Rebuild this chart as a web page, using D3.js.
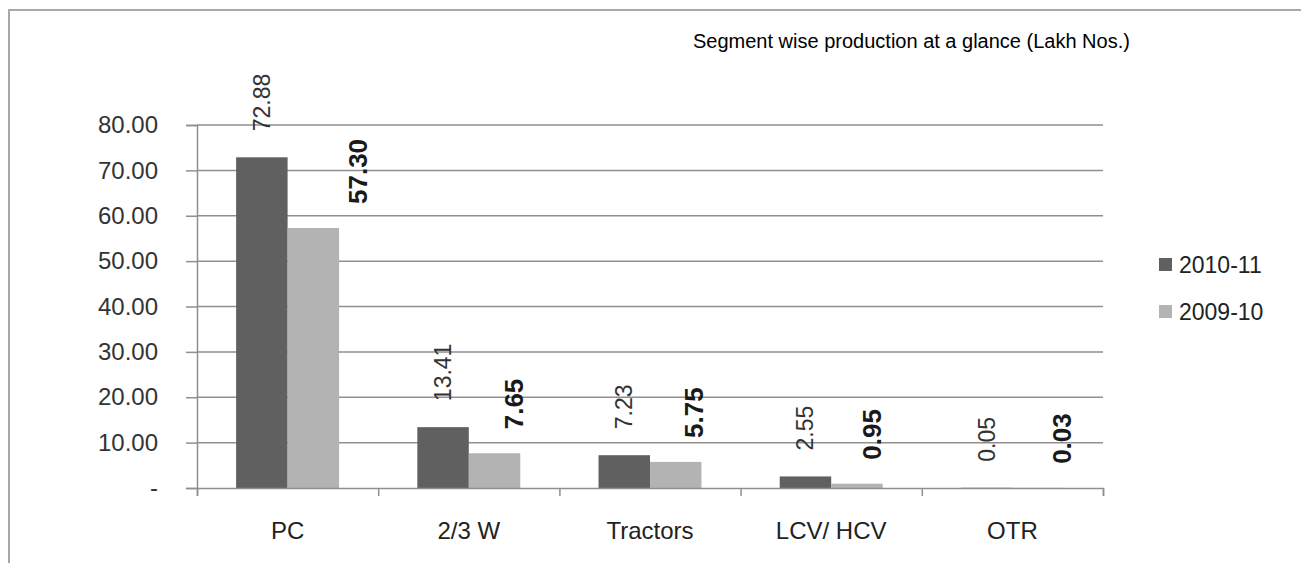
<!DOCTYPE html>
<html>
<head>
<meta charset="utf-8">
<script src="https://cdnjs.cloudflare.com/ajax/libs/d3/7.8.5/d3.min.js"></script>
<style>
  body { margin: 0; background: #fff; }
  svg { display: block; font-family: Arial, "Liberation Sans", sans-serif; }
</style>
</head>
<body>
<svg id="chart" width="1301" height="563"></svg>
<script>
// data
let categories = ["PC", "2/3 W", "Tractors", "LCV/ HCV", "OTR"]
let seriesNames = ["2010-11", "2009-10"]
let values2010 = [72.88, 13.41, 7.23, 2.55, 0.05]
let values2009 = [57.30, 7.65, 5.75, 0.95, 0.03]
let yTicks = [0, 10, 20, 30, 40, 50, 60, 70, 80]
let titleText = "Segment wise production at a glance (Lakh Nos.)"

let colors = { "2010-11": "#606060", "2009-10": "#b3b3b3" }
// the 2009-10 labels sit a bit right of their bars in the original
let lightNudge = [45, 19, 18, 15, 24]

let svg = d3.select("#chart")

// outer frame (left and top only are visible)
svg.append("path")
    .attr("d", "M9,563 V10 H1301")
    .attr("fill", "none")
    .attr("stroke", "#a8a8a8")
    .attr("stroke-width", 2)

svg.append("text")
    .attr("x", 693)
    .attr("y", 48)
    .style("font-size", "20px")
    .attr("fill", "#000")
    .text(titleText)

let margin = { left: 197, right: 1103, top: 125, bottom: 488 }

let xScale = d3.scaleBand()
    .domain(categories)
    .range([margin.left, margin.right])
    .padding(0)

let xInner = d3.scaleBand()
    .domain(seriesNames)
    .range([0, xScale.bandwidth()])
    .paddingInner(0)
    .paddingOuter(0.76)

let yScale = d3.scaleLinear()
    .domain([0, 80])
    .range([margin.bottom, margin.top])

// gridlines
svg.append("g")
    .selectAll("line")
    .data(yTicks.filter(d => d > 0))
    .enter().append("line")
        .attr("x1", margin.left)
        .attr("x2", margin.right)
        .attr("y1", d => yScale(d))
        .attr("y2", d => yScale(d))
        .attr("stroke", "#8f8f8f")
        .attr("stroke-width", 1.5)

// y axis
let yAxis = d3.axisLeft(yScale)
    .tickValues(yTicks)
    .tickSize(11)
    .tickPadding(28)
    .tickFormat(d => d === 0 ? "-" : d3.format(".2f")(d))

let gY = svg.append("g")
    .attr("transform", "translate(" + margin.left + ",0)")
    .call(yAxis)
gY.select(".domain").attr("stroke", "#8f8f8f").attr("stroke-width", 1.5)
gY.selectAll(".tick line").attr("stroke", "#8f8f8f").attr("stroke-width", 1.5)
gY.selectAll(".tick text")
    .style("font-size", "24px")
    .style("font-family", "Arial, 'Liberation Sans', sans-serif")
    .attr("fill", "#333")

// bars
let groups = svg.append("g")
    .selectAll("g")
    .data(categories.map((c, i) => ({ cat: c, i: i, vals: [values2010[i], values2009[i]] })))
    .enter().append("g")
        .attr("transform", d => "translate(" + xScale(d.cat) + ",0)")

groups.selectAll("rect")
    .data(d => d.vals.map((v, j) => ({ key: seriesNames[j], v: v })))
    .enter().append("rect")
        .attr("x", d => xInner(d.key))
        .attr("y", d => yScale(d.v))
        .attr("width", xInner.bandwidth())
        .attr("height", d => yScale(0) - yScale(d.v))
        .attr("fill", d => colors[d.key])

// x axis
let xAxis = d3.axisBottom(d3.scaleLinear().domain([0, 5]).range([margin.left, margin.right]))
    .ticks(5)
    .tickSize(8)
    .tickFormat("")
let gX = svg.append("g")
    .attr("transform", "translate(0," + margin.bottom + ")")
    .call(xAxis)
gX.select(".domain").attr("stroke", "#8f8f8f").attr("stroke-width", 1.5)
gX.selectAll(".tick line").attr("stroke", "#8f8f8f").attr("stroke-width", 1.5)

svg.append("g")
    .selectAll("text")
    .data(categories)
    .enter().append("text")
        .attr("x", d => xScale(d) + xScale.bandwidth() / 2)
        .attr("y", 539)
        .attr("text-anchor", "middle")
        .style("font-size", "24px")
        .attr("fill", "#222")
        .text(d => d)

// value labels
svg.append("g")
    .selectAll("text")
    .data(values2010)
    .enter().append("text")
        .attr("transform", (d, i) => {
            let x = xScale(categories[i]) + xInner(seriesNames[0]) + xInner.bandwidth() / 2 + 8
            let y = yScale(d) - 26
            return "translate(" + x + "," + y + ") rotate(-90)"
        })
        .style("font-size", "23px")
        .attr("fill", "#333")
        .text(d => d3.format(".2f")(d))

svg.append("g")
    .selectAll("text")
    .data(values2009)
    .enter().append("text")
        .attr("transform", (d, i) => {
            let x = xScale(categories[i]) + xInner(seriesNames[1]) + xInner.bandwidth() / 2 + 9 + lightNudge[i]
            let y = yScale(d) - 24
            return "translate(" + x + "," + y + ") rotate(-90)"
        })
        .style("font-size", "26px")
        .style("font-weight", "bold")
        .attr("fill", "#1a1a1a")
        .text(d => d3.format(".2f")(d))

// legend
let legend = svg.append("g")
    .selectAll("g")
    .data(seriesNames)
    .enter().append("g")
        .attr("transform", (d, i) => "translate(1159," + (258 + i * 47) + ")")

legend.append("rect")
    .attr("width", 13)
    .attr("height", 13)
    .attr("fill", d => colors[d])

legend.append("text")
    .attr("x", 20)
    .attr("y", 15)
    .style("font-size", "23px")
    .attr("fill", "#222")
    .text(d => d)
</script>
</body>
</html>
